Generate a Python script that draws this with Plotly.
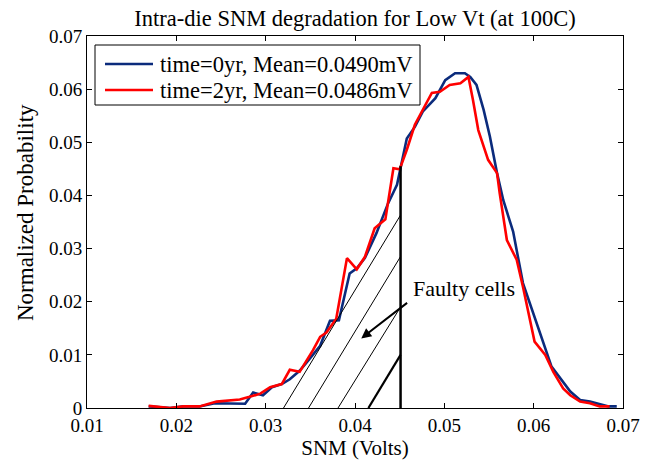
import plotly.graph_objects as go

# ---- data ----
snm_0yr = [0.0169, 0.0180, 0.0193, 0.0208, 0.0226, 0.0243, 0.0260, 0.0277, 0.0286, 0.0297,
           0.0307, 0.0318, 0.0327, 0.0338, 0.0348, 0.0361, 0.0372, 0.0382, 0.0394, 0.0402,
           0.0411, 0.0424, 0.0437, 0.0447, 0.0458, 0.0467, 0.0476, 0.0490, 0.0501, 0.0512,
           0.0523, 0.0529, 0.0536, 0.0544, 0.0551, 0.0559, 0.0566, 0.0577, 0.0588, 0.0611,
           0.0620, 0.0641, 0.0652, 0.0663, 0.0674, 0.0684, 0.0693]
prob_0yr = [0.0003, 0.0002, 0.0000, 0.0003, 0.0003, 0.0009, 0.0009, 0.0008, 0.0029, 0.0024,
            0.0039, 0.0045, 0.0054, 0.0070, 0.0090, 0.0117, 0.0164, 0.0165, 0.0253, 0.0263,
            0.0282, 0.0329, 0.0385, 0.0420, 0.0507, 0.0529, 0.0558, 0.0583, 0.0617, 0.0630,
            0.0630, 0.0623, 0.0608, 0.0561, 0.0511, 0.0442, 0.0391, 0.0332, 0.0235, 0.0122,
            0.0078, 0.0031, 0.0015, 0.0012, 0.0008, 0.0003, 0.0003]

snm_2yr = [0.0169, 0.0180, 0.0193, 0.0208, 0.0226, 0.0245, 0.0271, 0.0282, 0.0294, 0.0305,
           0.0318, 0.0327, 0.0338, 0.0353, 0.0361, 0.0368, 0.0379, 0.0391, 0.0402, 0.0411,
           0.0422, 0.0434, 0.0443, 0.0450, 0.0458, 0.0467, 0.0476, 0.0486, 0.0495, 0.0506,
           0.0518, 0.0527, 0.0532, 0.0538, 0.0549, 0.0559, 0.0562, 0.0570, 0.0581, 0.0588,
           0.0601, 0.0613, 0.0622, 0.0633, 0.0641, 0.0652, 0.0663, 0.0674, 0.0685]
prob_2yr = [0.0004, 0.0002, 0.0000, 0.0003, 0.0003, 0.0012, 0.0016, 0.0021, 0.0027, 0.0039,
            0.0045, 0.0072, 0.0068, 0.0109, 0.0134, 0.0142, 0.0168, 0.0282, 0.0261, 0.0284,
            0.0338, 0.0355, 0.0451, 0.0449, 0.0486, 0.0533, 0.0561, 0.0593, 0.0595, 0.0608,
            0.0611, 0.0623, 0.0580, 0.0523, 0.0467, 0.0442, 0.0404, 0.0316, 0.0279, 0.0228,
            0.0125, 0.0100, 0.0068, 0.0037, 0.0024, 0.0012, 0.0009, 0.0003, 0.0003]

series_names = ["time=0yr, Mean=0.0490mV", "time=2yr, Mean=0.0486mV"]
series_colors = ["#0b2b7c", "#ff0000"]

# threshold line and hatch lines of the "faulty cells" region
threshold_snm = 0.0451
threshold_top = 0.0455
hatch_start_snm = [0.0320, 0.0348, 0.0381, 0.0415]
hatch_end_prob = [0.0363, 0.0285, 0.0190, 0.0100]
hatch_widths = [1, 1, 1, 2.2]

x_ticks = [0.01, 0.02, 0.03, 0.04, 0.05, 0.06, 0.07]
x_ticktext = ["0.01", "0.02", "0.03", "0.04", "0.05", "0.06", "0.07"]
y_ticks = [0, 0.01, 0.02, 0.03, 0.04, 0.05, 0.06, 0.07]
y_ticktext = ["0", "0.01", "0.02", "0.03", "0.04", "0.05", "0.06", "0.07"]

FONT = "Liberation Serif"
OFF = 8  # page offset of the plot div

fig = go.Figure()
for xs, ys, nm, col in zip([snm_0yr, snm_2yr], [prob_0yr, prob_2yr], series_names, series_colors):
    fig.add_trace(go.Scatter(x=xs, y=ys, mode="lines", name=nm,
                             line=dict(color=col, width=2.6), showlegend=False))

shapes = []
for x0, ytop, w in zip(hatch_start_snm, hatch_end_prob, hatch_widths):
    shapes.append(dict(type="line", xref="x", yref="y", x0=x0, y0=0, x1=threshold_snm, y1=ytop,
                       line=dict(color="black", width=w)))
shapes.append(dict(type="line", xref="x", yref="y", x0=threshold_snm, y0=0, x1=threshold_snm,
                   y1=threshold_top, line=dict(color="black", width=2.5)))

annotations = [
    dict(x=0.0463, y=0.0224, xref="x", yref="y", text="Faulty cells", showarrow=False,
         xanchor="left", yanchor="middle", font=dict(family=FONT, size=22, color="black")),
    dict(x=0.0407, y=0.0131, xref="x", yref="y", ax=0.0460, ay=0.0200, axref="x", ayref="y",
         text="", showarrow=True, arrowhead=2, arrowsize=1, arrowwidth=2, arrowcolor="black"),
]

# plot area in target pixels
L, R, T, B = 87, 623, 36, 408
def px(xp):
    return (xp - L) / (R - L)
def py(yp):
    return (B - yp) / (B - T)

shapes.append(dict(type="rect", xref="paper", yref="paper", x0=px(95), x1=px(420),
                   y0=py(105), y1=py(45), line=dict(color="black", width=1), fillcolor="white"))
for row_y, nm, col in zip([64, 90], series_names, series_colors):
    shapes.append(dict(type="line", xref="paper", yref="paper", x0=px(105), x1=px(153),
                       y0=py(row_y), y1=py(row_y), line=dict(color=col, width=2.6)))
    annotations.append(dict(x=px(158), y=py(row_y), xref="paper", yref="paper", text=nm,
                            showarrow=False, xanchor="left", yanchor="middle",
                            font=dict(family=FONT, size=22.5, color="black")))

# y-axis title placed as in the reference
annotations.append(dict(x=px(25), y=py(213), xref="paper", yref="paper",
                        text="Normalized Probability", textangle=-90, showarrow=False,
                        xanchor="center", yanchor="middle",
                        font=dict(family=FONT, size=23, color="black")))

axis_common = dict(showgrid=False, zeroline=False, showline=True, linecolor="black", linewidth=1,
                   mirror="ticks", ticks="inside", ticklen=5, tickcolor="black", tickwidth=1,
                   automargin=False, tickfont=dict(family=FONT, size=19, color="black"))

fig.update_layout(
    width=655, height=464,
    margin=dict(l=L - OFF, r=655 - (R - OFF), t=T - OFF, b=464 - (B - OFF)),
    paper_bgcolor="white", plot_bgcolor="white",
    font=dict(family=FONT, color="black"),
    title=dict(text="Intra-die SNM degradation for Low Vt (at 100C)", x=0.5, xref="paper",
               xanchor="center", y=1 - (18 - OFF) / 464, yref="container", yanchor="middle",
               font=dict(family=FONT, size=22.5, color="black")),
    xaxis=dict(range=[0.01, 0.07], tickvals=x_ticks, ticktext=x_ticktext,
               title=dict(text="SNM (Volts)", font=dict(family=FONT, size=21), standoff=4),
               **axis_common),
    yaxis=dict(range=[0, 0.07], tickvals=y_ticks, ticktext=y_ticktext, **axis_common),
    shapes=shapes,
    annotations=annotations,
    showlegend=False,
)

fig.write_html("out.html")
